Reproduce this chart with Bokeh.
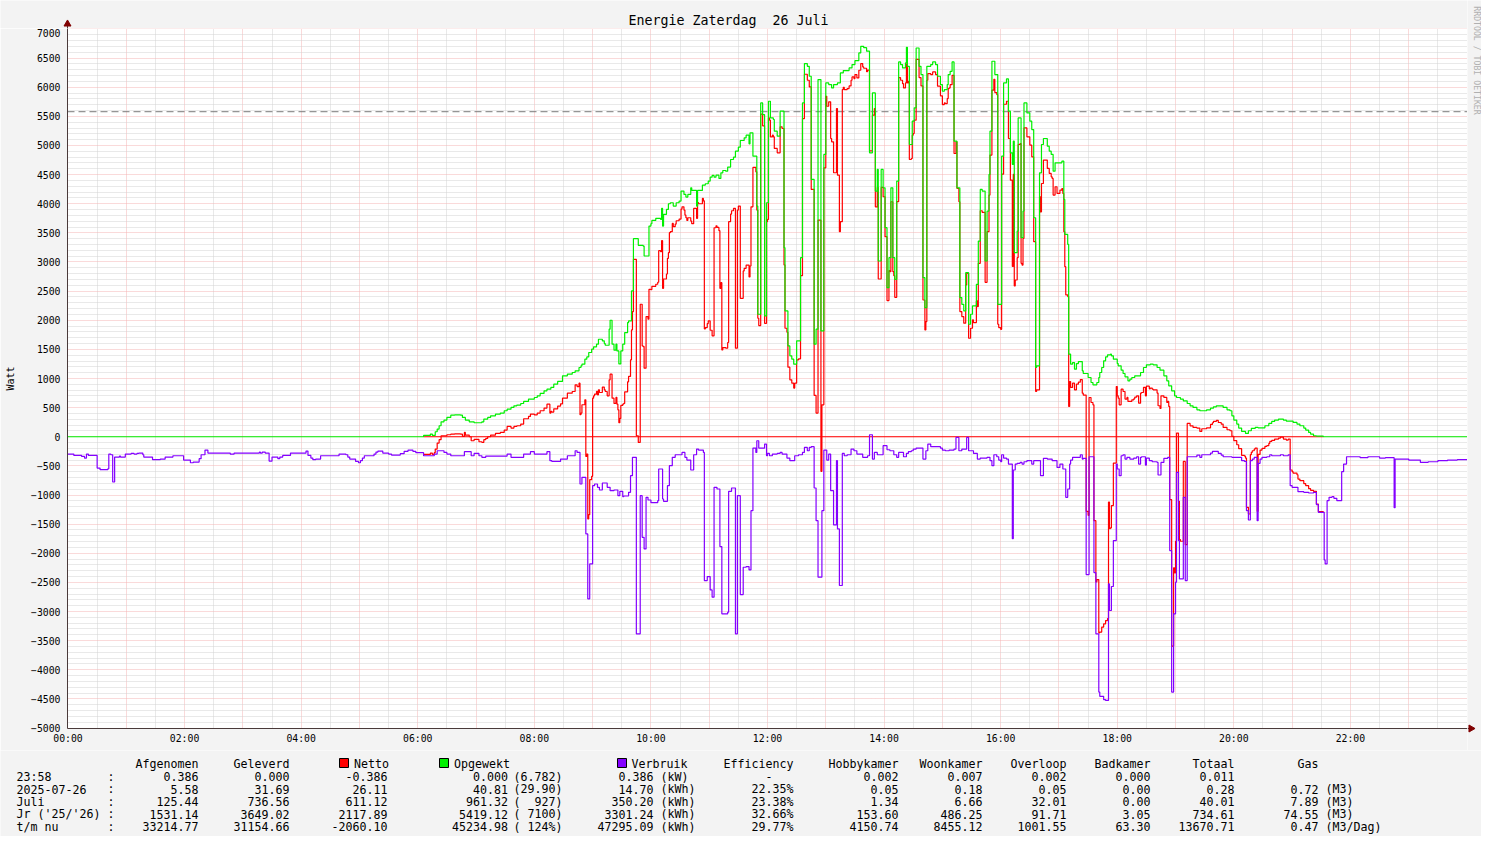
from math import pi
from bokeh.plotting import figure
from bokeh.models import Range1d, FixedTicker, Span, BasicTickFormatter
from bokeh.layouts import column, row
from bokeh.embed import file_html
from bokeh.resources import INLINE
from bokeh.core.properties import value

# ---------------- data (minutes after midnight, Watt) ----------------
TITLE_PARTS = ["Energie Zaterdag", "26 Juli"]   # shown with a double space between
Y_LABEL = "Watt"
WATERMARK = "RRDTOOL / TOBI OETIKER"
HOUR_TICKS = list(range(0, 1440, 60))
HALF_HOUR_TICKS = list(range(30, 1440, 60))
Y_MAJOR = list(range(-5000, 7001, 500))
Y_MINOR = [v for v in range(-5000, 7001, 100) if v % 500 != 0]
LIMIET = 5580

opgewekt = [
(0,0),(366,23),(373,46),(375,23),(378,86),(380,131),(382,189),(384,257),(387,286),(390,331),(394,371),(398,377),(404,371),(406,331),(409,286),(413,257),(418,240),(426,257),(428,303),(432,331),(435,360),(440,389),(445,406),(449,446),(452,474),(456,503),(459,531),(462,543),(466,571),(469,606),(474,646),(480,674),(483,703),(486,743),(490,789),(493,817),(497,846),(500,903),(504,949),(509,1046),(514,1074),(519,1103),(522,1131),(526,1189),(528,1217),(529,1246),(532,1331),(534,1371),(536,1446),(539,1503),(541,1543),(544,1589),(546,1674),(550,1646),(552,1600),(553,1571),(557,1846),(558,2000),(560,1589),(562,1486),(564,1589),(565,1474),(567,1251),(569,1474),(571,1589),(573,1789),(576,1960),(577,1989),(580,2503),(582,3400),(587,3286),(592,3274),(593,3103),(598,3617),(600,3657),(601,3714),(605,3749),(610,3731),(611,3920),(612,3617),(613,3817),(616,3903),(618,4000),(620,4017),(623,3960),(626,4017),(629,4046),(631,4217),(634,4160),(636,4114),(638,4160),(641,4274),(642,4229),(647,3960),(648,4229),(653,4320),(656,4343),(659,4389),(661,4457),(663,4486),(665,4457),(667,4491),(670,4434),(672,4531),(674,4571),(677,4560),(679,4629),(682,4760),(685,4800),(687,4903),(690,4971),(692,5086),(696,5131),(698,5177),(701,5029),(702,5217),(705,4817),(709,3960),(710,2103),(713,5731),(715,5531),(717,2074),(719,4017),(721,5760),(723,5474),(726,5446),(727,5246),(730,5160),(733,5589),(737,3246),(738,2160),(741,1560),(743,1389),(745,1331),(747,1246),(750,1646),(754,3074),(756,5731),(758,6406),(761,6360),(763,6189),(765,4417),(768,1589),(770,1846),(772,6131),(775,1817),(778,4846),(780,6074),(783,6046),(786,5989),(788,6046),(792,6074),(795,6246),(798,6286),(804,6331),(807,6389),(810,6457),(814,6589),(816,6703),(819,6680),(822,6620),(825,4874),(828,5903),(831,4217),(833,4589),(834,3017),(837,4589),(839,4274),(841,3589),(843,2560),(845,3074),(847,4274),(849,3074),(851,2703),(853,4389),(855,6434),(857,6389),(859,6331),(862,6417),(863,6686),(864,6360),(866,5017),(869,5417),(871,5646),(873,6674),(876,6360),(878,6217),(880,2731),(882,2217),(884,6360),(888,6389),(890,6434),(893,6389),(895,6189),(898,6046),(900,5931),(902,5960),(905,6046),(906,6217),(908,6274),(910,6434),(912,5074),(915,4274),(918,2389),(920,2274),(922,2160),(924,2817),(927,1931),(929,2103),(931,2246),(935,2617),(937,3360),(939,4246),(941,4217),(944,3017),(946,3874),(948,4503),(949,5246),(951,6446),(954,6217),(957,2274),(961,4817),(963,6074),(966,6143),(968,5589),(970,4874),(972,4674),(973,5074),(974,3160),(977,3531),(978,5474),(981,3417),(983,3874),(984,5731),(987,5560),(990,5417),(992,5274),(994,3760),(996,1189),(997,1217),(1000,4531),(1002,5017),(1004,5120),(1008,4989),(1010,4903),(1012,4846),(1014,4560),(1016,4703),(1023,4731),(1025,4074),(1026,3474),(1029,3303),(1030,1417),(1032,1246),(1034,1274),(1036,1160),(1038,1257),(1040,1291),(1044,1131),(1045,1086),(1050,1017),(1053,931),(1055,891),(1059,931),(1061,1017),(1062,1103),(1064,1189),(1066,1303),(1068,1371),(1070,1406),(1073,1417),(1074,1389),(1076,1331),(1080,1257),(1081,1217),(1084,1143),(1086,1086),(1088,1029),(1091,960),(1093,989),(1095,1017),(1098,1046),(1104,1103),(1107,1189),(1110,1234),(1114,1246),(1117,1234),(1121,1189),(1124,1143),(1128,1046),(1131,960),(1133,874),(1136,789),(1139,703),(1141,674),(1145,646),(1148,617),(1152,571),(1155,531),(1158,503),(1162,463),(1165,446),(1172,463),(1176,491),(1179,514),(1182,531),(1189,503),(1193,463),(1196,446),(1198,360),(1200,286),(1203,217),(1205,149),(1208,91),(1212,57),(1215,103),(1218,143),(1222,160),(1225,154),(1232,189),(1236,229),(1239,263),(1242,286),(1246,303),(1251,286),(1254,269),(1261,246),(1265,217),(1268,189),(1272,149),(1274,114),(1277,74),(1279,46),(1282,17),(1285,11),(1292,0),(1440,0)]

verbruik = [
(0,-297),(6,-320),(14,-337),(17,-366),(19,-297),(21,-320),(30,-537),(33,-566),(41,-549),(42,-297),(44,-309),(46,-777),(48,-349),(53,-331),(54,-349),(59,-297),(65,-286),(68,-297),(71,-286),(73,-280),(77,-309),(78,-349),(87,-394),(95,-383),(100,-349),(108,-326),(119,-400),(126,-446),(129,-434),(135,-377),(137,-309),(141,-229),(144,-280),(167,-297),(171,-280),(197,-263),(198,-280),(200,-263),(203,-280),(207,-417),(210,-349),(216,-377),(218,-349),(221,-320),(229,-280),(245,-246),(247,-320),(250,-366),(252,-394),(255,-383),(260,-326),(279,-297),(286,-309),(288,-349),(290,-383),(296,-423),(299,-446),(301,-411),(303,-366),(305,-326),(315,-297),(317,-263),(319,-246),(324,-280),(330,-297),(333,-314),(342,-290),(346,-251),(350,-229),(355,-251),(358,-274),(366,-326),(377,-297),(380,-240),(387,-269),(390,-297),(394,-326),(408,-257),(415,-326),(418,-286),(423,-326),(426,-354),(430,-331),(452,-297),(456,-354),(469,-297),(476,-257),(480,-297),(493,-257),(496,-411),(498,-423),(507,-383),(514,-326),(522,-240),(524,-269),(527,-811),(529,-697),(533,-1669),(535,-2783),(537,-2183),(540,-840),(542,-811),(545,-869),(547,-914),(550,-794),(555,-869),(558,-926),(562,-914),(566,-1011),(568,-937),(571,-1029),(572,-1017),(577,-954),(579,-669),(581,-354),(585,-3383),(589,-1011),(591,-1726),(593,-1926),(595,-1040),(597,-1086),(600,-1131),(607,-1097),(608,-554),(612,-1069),(613,-1109),(617,-840),(619,-497),(622,-354),(625,-309),(632,-269),(635,-354),(637,-400),(641,-571),(644,-309),(647,-211),(649,-229),(654,-269),(655,-2469),(658,-2400),(661,-2629),(663,-2754),(665,-869),(668,-897),(671,-1886),(673,-3040),(679,-3011),(680,-937),(683,-880),(687,-3383),(689,-1011),(692,-2709),(695,-2240),(698,-2229),(701,-2286),(703,-1269),(705,-194),(708,-269),(709,-69),(711,-194),(717,-126),(719,-326),(720,-286),(722,-326),(725,-297),(730,-286),(733,-269),(735,-297),(740,-366),(743,-411),(748,-326),(752,-309),(756,-269),(758,-183),(761,-240),(763,-183),(765,-171),(768,-880),(770,-1440),(772,-2411),(776,-1269),(778,-229),(781,-400),(783,-297),(785,-926),(788,-1514),(791,-411),(792,-1583),(794,-2554),(797,-286),(799,-326),(802,-309),(806,-211),(809,-240),(812,-297),(818,-354),(823,-326),(825,34),(828,-383),(830,-269),(833,-309),(839,-154),(843,-223),(846,-240),(850,-309),(853,-354),(855,-269),(860,-343),(863,-286),(865,-257),(868,-240),(870,-211),(873,-194),(880,-383),(883,-240),(885,-126),(888,-171),(898,-194),(900,-229),(903,-240),(907,-229),(912,-211),(914,-11),(917,-240),(920,-211),(925,-11),(927,-240),(932,-286),(936,-383),(939,-366),(946,-354),(949,-411),(951,-497),(953,-309),(956,-343),(958,-400),(960,-429),(961,-309),(963,-366),(966,-383),(968,-469),(972,-1750),(973,-571),(975,-469),(977,-457),(980,-440),(982,-469),(984,-429),(987,-411),(992,-469),(994,-411),(1001,-669),(1004,-371),(1008,-383),(1013,-411),(1018,-526),(1021,-469),(1024,-554),(1027,-1040),(1029,-897),(1031,-469),(1032,-400),(1034,-354),(1042,-309),(1044,-383),(1045,-371),(1048,-2366),(1051,-343),(1056,-2331),(1058,-3383),(1061,-4383),(1062,-4457),(1066,-4514),(1068,-4526),(1071,-2526),(1072,-2983),(1074,-2571),(1076,-1783),(1079,-469),(1080,-554),(1082,-669),(1084,-326),(1086,-309),(1088,-383),(1090,-354),(1093,-383),(1097,-366),(1100,-343),(1102,-469),(1104,-354),(1105,-343),(1109,-486),(1110,-366),(1113,-411),(1116,-429),(1121,-440),(1122,-657),(1125,-440),(1128,-371),(1132,-354),(1134,-1954),(1136,-4383),(1138,-3040),(1140,-2497),(1141,-611),(1143,-1783),(1144,-2440),(1148,-1040),(1150,-2469),(1152,-343),(1162,-314),(1165,-354),(1167,-309),(1176,-280),(1178,-251),(1184,-286),(1187,-314),(1189,-343),(1198,-354),(1208,-411),(1211,-423),(1213,-1269),(1215,-1429),(1217,-411),(1219,-383),(1221,-354),(1224,-1440),(1225,-457),(1227,-383),(1229,-354),(1234,-343),(1237,-309),(1239,-326),(1248,-309),(1251,-326),(1256,-309),(1258,-840),(1260,-869),(1266,-943),(1272,-954),(1277,-966),(1282,-954),(1285,-1166),(1287,-1297),(1293,-2114),(1294,-2183),(1296,-1097),(1298,-1040),(1301,-1029),(1303,-1057),(1306,-1097),(1311,-600),(1313,-469),(1316,-343),(1330,-360),(1338,-343),(1350,-366),(1356,-360),(1365,-1217),(1366,-383),(1380,-400),(1392,-440),(1400,-429),(1410,-411),(1420,-400),(1430,-394),(1440,-394)]

netto = [
(366,-303),(373,-280),(375,-303),(377,-274),(378,-211),(380,-109),(382,-51),(384,17),(387,17),(390,34),(394,45),(398,51),(404,45),(406,5),(408,74),(409,29),(413,0),(415,-69),(418,-46),(423,-86),(426,-97),(428,-51),(430,-28),(432,0),(435,29),(440,58),(445,75),(449,115),(452,177),(456,149),(459,177),(462,189),(466,217),(469,309),(474,349),(476,389),(480,377),(483,406),(486,446),(490,492),(493,560),(496,406),(497,435),(498,423),(500,480),(504,526),(507,566),(509,663),(514,748),(519,777),(522,891),(524,862),(526,920),(527,378),(528,406),(529,549),(532,634),(533,-338),(534,-298),(535,-1412),(536,-1337),(537,-737),(539,-680),(540,663),(541,703),(542,732),(544,778),(545,720),(546,805),(547,760),(550,852),(552,806),(553,777),(555,702),(557,977),(558,1074),(560,663),(562,572),(564,675),(565,560),(566,463),(567,240),(568,314),(569,537),(571,560),(572,572),(573,772),(576,943),(577,1035),(579,1320),(580,1834),(581,2149),(582,3046),(585,17),(587,-97),(589,2275),(591,1560),(592,1548),(593,1177),(595,2063),(597,2017),(598,2531),(600,2526),(601,2583),(605,2618),(607,2652),(608,3195),(610,3177),(611,3366),(612,2548),(613,2708),(616,2794),(617,3063),(618,3160),(619,3503),(620,3520),(622,3663),(623,3606),(625,3651),(626,3708),(629,3737),(631,3908),(632,3948),(634,3891),(635,3806),(636,3760),(637,3714),(638,3760),(641,3703),(642,3658),(644,3920),(647,3749),(648,4018),(649,4000),(653,4091),(654,4051),(655,1851),(656,1874),(658,1943),(659,1989),(661,1828),(663,1732),(665,3588),(667,3622),(668,3594),(670,3537),(671,2548),(672,2645),(673,1491),(674,1531),(677,1520),(679,1618),(680,3692),(682,3823),(683,3880),(685,3920),(687,1520),(689,3892),(690,3960),(692,2377),(695,2846),(696,2891),(698,2948),(701,2743),(702,2931),(703,3948),(705,4623),(708,4548),(709,3891),(710,2034),(711,1909),(713,5537),(715,5337),(717,1948),(719,3691),(720,3731),(721,5474),(722,5434),(723,5148),(725,5177),(726,5149),(727,4949),(730,4874),(733,5320),(735,5292),(737,2949),(738,1863),(740,1794),(741,1194),(743,978),(745,920),(747,835),(748,920),(750,1320),(752,1337),(754,2765),(756,5462),(758,6223),(761,6120),(763,6006),(765,4246),(768,709),(770,406),(772,3720),(775,-594),(776,548),(778,4617),(780,5845),(781,5674),(783,5749),(785,5120),(786,5063),(788,4532),(791,5635),(792,4491),(794,3520),(795,3692),(797,5960),(798,6000),(799,5960),(802,5977),(804,6022),(806,6120),(807,6178),(809,6149),(810,6217),(812,6160),(814,6292),(816,6406),(818,6349),(819,6326),(822,6266),(823,6294),(825,4908),(828,5520),(830,5634),(831,3948),(833,4280),(834,2708),(837,4280),(839,4120),(841,3435),(843,2337),(845,2851),(846,2834),(847,4034),(849,2834),(850,2765),(851,2394),(853,4035),(855,6165),(857,6120),(859,6062),(860,5988),(862,6074),(863,6400),(864,6074),(865,6103),(866,4760),(868,4777),(869,5177),(870,5206),(871,5435),(873,6480),(876,6166),(878,6023),(880,2348),(882,1834),(883,1977),(884,6120),(885,6234),(888,6218),(890,6263),(893,6218),(895,6018),(898,5852),(900,5702),(902,5731),(903,5720),(905,5806),(906,5977),(907,5988),(908,6045),(910,6205),(912,4863),(914,5063),(915,4263),(917,4034),(918,2149),(920,2063),(922,1949),(924,2606),(925,2806),(927,1691),(929,1863),(931,2006),(932,1960),(935,2331),(936,2234),(937,2977),(939,3880),(941,3851),(944,2651),(946,3520),(948,4149),(949,4835),(951,5949),(953,6137),(954,5908),(956,5874),(957,1931),(958,1874),(960,1845),(961,4508),(963,5708),(966,5760),(968,5120),(970,4405),(972,2924),(973,4503),(974,2589),(975,2691),(977,3074),(978,5017),(980,5034),(981,2977),(982,2948),(983,3405),(984,5302),(987,5149),(990,5006),(992,4805),(994,3349),(996,778),(997,806),(1000,4120),(1001,3862),(1002,4348),(1004,4749),(1008,4606),(1010,4520),(1012,4463),(1013,4435),(1014,4149),(1016,4292),(1018,4177),(1021,4234),(1023,4262),(1024,4177),(1025,3520),(1026,2920),(1027,2434),(1029,2406),(1030,520),(1031,948),(1032,846),(1034,920),(1036,806),(1038,903),(1040,937),(1042,982),(1044,748),(1045,715),(1048,-1280),(1050,-1349),(1051,674),(1053,588),(1055,548),(1056,-1440),(1058,-2492),(1059,-2452),(1061,-3366),(1062,-3354),(1064,-3268),(1066,-3211),(1068,-3155),(1070,-3120),(1071,-1120),(1072,-1577),(1073,-1566),(1074,-1182),(1076,-452),(1079,862),(1080,703),(1081,663),(1082,548),(1084,817),(1086,777),(1088,646),(1090,675),(1091,606),(1093,606),(1095,634),(1097,651),(1098,680),(1100,703),(1102,577),(1104,749),(1105,760),(1107,846),(1109,703),(1110,868),(1113,823),(1114,835),(1116,817),(1117,805),(1121,749),(1122,532),(1124,486),(1125,703),(1128,675),(1131,589),(1132,606),(1133,520),(1134,-1080),(1136,-3594),(1138,-2251),(1139,-2337),(1140,-1794),(1141,63),(1143,-1109),(1144,-1766),(1145,-1794),(1148,-423),(1150,-1852),(1152,228),(1155,188),(1158,160),(1162,149),(1165,92),(1167,137),(1172,154),(1176,211),(1178,240),(1179,263),(1182,280),(1184,245),(1187,217),(1189,160),(1193,120),(1196,103),(1198,6),(1200,-68),(1203,-137),(1205,-205),(1208,-320),(1211,-332),(1212,-366),(1213,-1212),(1215,-1326),(1217,-308),(1218,-268),(1219,-240),(1221,-211),(1222,-194),(1224,-1280),(1225,-303),(1227,-229),(1229,-200),(1232,-165),(1234,-154),(1236,-114),(1237,-80),(1239,-63),(1242,-40),(1246,-23),(1248,-6),(1251,-40),(1254,-57),(1256,-40),(1258,-571),(1260,-600),(1261,-623),(1265,-652),(1266,-726),(1268,-754),(1272,-805),(1274,-840),(1277,-892),(1279,-920),(1282,-937),(1285,-1155),(1287,-1286),(1292,-1297),(1293,-1297)]

# legend table
row_labels = ["23:58", "2025-07-26", "Juli", "Jr ('25/'26)", "t/m nu"]
afgenomen = ["0.386", "5.58", "125.44", "1531.14", "33214.77"]
geleverd = ["0.000", "31.69", "736.56", "3649.02", "31154.66"]
netto_tot = ["-0.386", "26.11", "611.12", "2117.89", "-2060.10"]
opgewekt_tot = ["0.000", "40.81", "961.32", "5419.12", "45234.98"]
opgewekt_ref = ["6.782)", "29.90)", "927)", "7100)", "124%)"]
verbruik_tot = ["0.386", "14.70", "350.20", "3301.24", "47295.09"]
verbruik_unit = ["(kW)", "(kWh)", "(kWh)", "(kWh)", "(kWh)"]
efficiency = ["-", "22.35%", "23.38%", "32.66%", "29.77%"]
hobbykamer = ["0.002", "0.05", "1.34", "153.60", "4150.74"]
woonkamer = ["0.007", "0.18", "6.66", "486.25", "8455.12"]
overloop = ["0.002", "0.05", "32.01", "91.71", "1001.55"]
badkamer = ["0.000", "0.00", "0.00", "3.05", "63.30"]
totaal = ["0.011", "0.28", "40.01", "734.61", "13670.71"]
gas = ["", "0.72", "7.89", "74.55", "0.47"]
gas_unit = ["", "(M3)", "(M3)", "(M3)", "(M3/Dag)"]

# ---------------- styling ----------------
BG = "#F3F3F3"
GREEN = "#00F000"
RED = "#FF0000"
PURPLE = "#8400FF"
AXIS = "#4A3A3A"
ARROW = "#800000"
MGRID = "#F4B4B4"
GRID = "#D2D2D2"
MONO = "DejaVu Sans Mono"
LW = 1.2

TOTAL_W = 1481
TOP_H = 28          # strip above the plot area
MAIN_W = 1467       # up to right edge of plot area
MAIN_H = 722        # plot area (700) + x-axis labels
RIGHT_W = TOTAL_W - MAIN_W
LEG_H = 86

HALF_X = 1440 / 1400 / 2
HALF_Y = 12000 / 700 / 2


def no_align(fig):
    try:
        fig.frame_align = False
    except Exception:
        pass


# ---------------- main plot ----------------
p = figure(width=MAIN_W, height=MAIN_H, output_backend="svg", toolbar_location=None, title=None,
           x_range=Range1d(-HALF_X, 1440 + HALF_X), y_range=Range1d(-5000 - HALF_Y, 7000 + HALF_Y),
           min_border_left=67, min_border_right=0, min_border_top=0, min_border_bottom=22,
           background_fill_color="white", border_fill_color=BG, outline_line_color=None)
no_align(p)

xa = p.xaxis[0]
xa.ticker = FixedTicker(ticks=HOUR_TICKS, minor_ticks=HALF_HOUR_TICKS)
xa.major_label_overrides = {m: (f"{m // 60:02d}:00" if (m // 60) % 2 == 0 else "") for m in HOUR_TICKS}
ya = p.yaxis[0]
ya.ticker = FixedTicker(ticks=Y_MAJOR, minor_ticks=Y_MINOR)
ya.formatter = BasicTickFormatter(use_scientific=False)
for ax in (xa, ya):
    ax.axis_line_color = AXIS
    ax.axis_line_width = 1
    ax.major_tick_out = 0
    ax.major_tick_in = 0
    ax.minor_tick_out = 0
    ax.minor_tick_in = 0
    ax.major_label_text_font = MONO
    ax.major_label_text_font_size = "9.8px"
    ax.major_label_text_color = "#000000"
xa.major_label_standoff = 4
ya.major_label_standoff = 7
ya.axis_label = Y_LABEL
ya.axis_label_text_font = MONO
ya.axis_label_text_font_size = "10px"
ya.axis_label_text_font_style = "normal"
ya.axis_label_text_color = "#000000"
ya.axis_label_standoff = 12

for g in (p.xgrid[0], p.ygrid[0]):
    g.grid_line_color = MGRID
    g.grid_line_dash = "1 1"
    g.grid_line_width = 1
    g.minor_grid_line_color = GRID
    g.minor_grid_line_dash = "1 1"
    g.minor_grid_line_width = 1

p.add_layout(Span(location=LIMIET, dimension="width", line_color="#7A7A7A",
                  line_dash="7 4", line_width=1, level="underlay"))

t_opg = [t for t, _ in opgewekt]
v_opg = [v for _, v in opgewekt]
t_ver = [t for t, _ in verbruik]
v_ver = [v for _, v in verbruik]
t_net = [t for t, _ in netto]
v_net = [v for _, v in netto]

# zero line in red while the panels are producing
prod = [t for t, v in opgewekt if v > 0]
t_on = prod[0]
t_off = min(t for t, v in opgewekt if t > prod[-1])
p.line([t_on, t_off], [0, 0], line_color=RED, line_width=LW)

p.step(t_net, v_net, mode="after", line_color=RED, line_width=LW)
p.step(t_opg, v_opg, mode="after", line_color=GREEN, line_width=LW)
p.step(t_ver, v_ver, mode="after", line_color=PURPLE, line_width=LW)

# ---------------- strip above the plot: title + y-axis arrow ----------------
top = figure(width=MAIN_W, height=TOP_H, output_backend="svg", toolbar_location=None, title=None,
             x_range=Range1d(0, MAIN_W), y_range=Range1d(TOP_H, 0),
             x_axis_type=None, y_axis_type=None, min_border=0,
             background_fill_color=BG, border_fill_color=BG, outline_line_color=None)
no_align(top)
top.grid.visible = False
top.text(x=[628, 772], y=[20, 20], text=TITLE_PARTS, text_align="left", text_baseline="middle",
         text_font=value(MONO), text_font_size=value("13.3px"), text_color="#000000")
top.segment(x0=[67], y0=[TOP_H], x1=[67], y1=[24], line_color=AXIS, line_width=1)
top.scatter(x=[67], y=[23.5], marker="triangle", size=7, fill_color=ARROW, line_color=ARROW)

# ---------------- strip right of the plot: watermark + x-axis arrow ----------------
right = figure(width=RIGHT_W, height=TOP_H + MAIN_H, output_backend="svg", toolbar_location=None,
               title=None, x_range=Range1d(MAIN_W, TOTAL_W), y_range=Range1d(TOP_H + MAIN_H, 0),
               x_axis_type=None, y_axis_type=None, min_border=0,
               background_fill_color=BG, border_fill_color=BG, outline_line_color=None)
no_align(right)
right.grid.visible = False
right.text(x=[1476], y=[60], text=[WATERMARK], angle=-pi / 2, text_align="center",
           text_baseline="middle", text_font=value(MONO), text_font_size=value("8.2px"),
           text_color="#B0B0B0")
right.segment(x0=[MAIN_W], y0=[728], x1=[1470], y1=[728], line_color=AXIS, line_width=1)
right.scatter(x=[1470.5], y=[728], marker="triangle", angle=-pi / 2, size=7,
              fill_color=ARROW, line_color=ARROW)

# ---------------- legend table ----------------
LEG_TOP = TOP_H + MAIN_H
leg = figure(width=TOTAL_W, height=LEG_H, output_backend="svg", toolbar_location=None, title=None,
             x_range=Range1d(0, TOTAL_W), y_range=Range1d(LEG_TOP + LEG_H, LEG_TOP),
             x_axis_type=None, y_axis_type=None, min_border=0,
             background_fill_color=BG, border_fill_color=BG, outline_line_color=None)
no_align(leg)
leg.grid.visible = False

CW = 7.0
X0 = 16
def cx(i):
    return X0 + i * CW

HEAD_Y = 763
ROW_Y = [776, 788.5, 801, 813.5, 826]
FS = "11.63px"

def put(xs, ys, texts, align):
    leg.text(x=xs, y=ys, text=texts, text_align=align, text_baseline="middle",
             text_font=value(MONO), text_font_size=value(FS), text_color="#000000")

n = len(row_labels)
put([cx(0)] * n, ROW_Y, row_labels, "left")
put([cx(13)] * n, ROW_Y, [":"] * n, "left")
right_cols = [(26, afgenomen), (39, geleverd), (53, netto_tot), (70.2, opgewekt_tot),
              (78, opgewekt_ref), (91, verbruik_tot), (126, hobbykamer), (138, woonkamer),
              (150, overloop), (162, badkamer), (174, totaal), (186, gas)]
for idx, col in right_cols:
    put([cx(idx)] * n, ROW_Y, col, "right")
put([cx(71)] * n, ROW_Y, ["("] * n, "left")
put([cx(92)] * n, ROW_Y, verbruik_unit, "left")
put([cx(187)] * n, ROW_Y, gas_unit, "left")
eff_x = [cx(108) if e == "-" else cx(111) for e in efficiency]
put(eff_x, ROW_Y, efficiency, "right")

heads_right = [(26, "Afgenomen"), (39, "Geleverd"), (111, "Efficiency"), (126, "Hobbykamer"),
               (138, "Woonkamer"), (150, "Overloop"), (162, "Badkamer"), (174, "Totaal"),
               (186, "Gas")]
put([cx(i) for i, _ in heads_right], [HEAD_Y] * len(heads_right), [h for _, h in heads_right], "right")
put([353.5, 453.5, 631], [HEAD_Y] * 3, ["Netto", "Opgewekt", "Verbruik"], "left")
leg.rect(x=[343.5, 443.5, 621.5], y=[HEAD_Y - 0.5] * 3, width=9, height=9,
         fill_color=[RED, GREEN, PURPLE], line_color="#000000", line_width=1)

layout = column(row(column(top, p, spacing=0), right, spacing=0), leg, spacing=0)
open("out.html", "w").write(file_html(layout, INLINE))
